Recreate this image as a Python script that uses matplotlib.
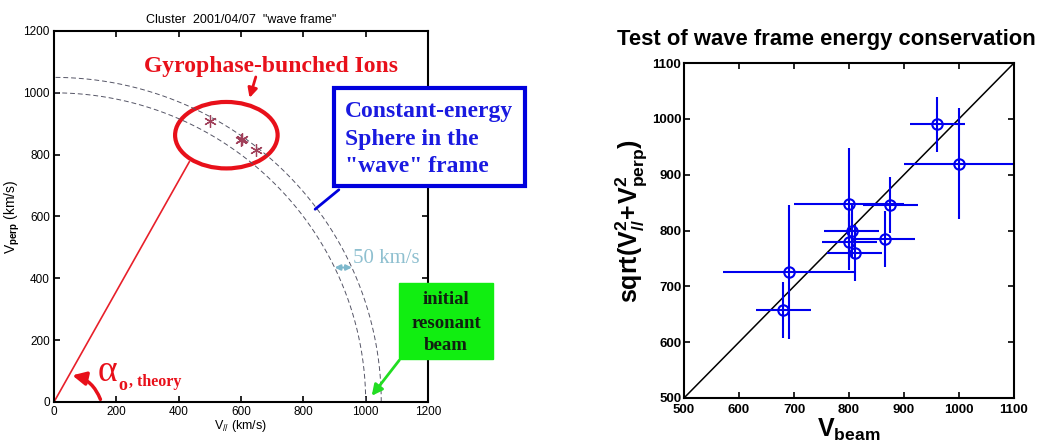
import matplotlib
matplotlib.use('Agg')
import matplotlib.pyplot as plt
import numpy as np
from matplotlib.patches import Ellipse, Rectangle, FancyArrowPatch

W, H = 1052, 441

# wave-frame ion data (left panel)
radii = [1000, 1050]
ion_vpar = [500, 603, 600, 649]
ion_vperp = [910, 852, 848, 815]
alpha_theory = 60.8   # deg
line_len = 890

# energy conservation test (right panel)
vbeam = [960, 1000, 800, 875, 805, 800, 810, 865, 690, 680]
vsphere = [990, 920, 848, 845, 800, 780, 760, 785, 725, 658]
xerr = [50, 100, 100, 50, 50, 50, 50, 55, 120, 50]
yerr = [50, 100, 100, 50, 50, 50, 50, 50, 120, 50]

sans = 'Liberation Sans'
serif = 'Liberation Serif'
plt.rcParams['font.family'] = sans
plt.rcParams['mathtext.fontset'] = 'custom'
plt.rcParams['mathtext.rm'] = sans
plt.rcParams['mathtext.bf'] = sans + ':bold'


def fp(x, y):
    # pixel position -> figure fraction
    return (x / W, 1 - y / H)


fig = plt.figure(figsize=(W / 100, H / 100), dpi=100)
ax1 = fig.add_axes([54 / W, 1 - 402 / H, 374 / W, 371 / H])
ax2 = fig.add_axes([684 / W, 1 - 398 / H, 330 / W, 335 / H])

for ax in (ax1, ax2):
    ax.tick_params(direction='in', top=True, right=True, length=4, width=1.2, pad=3)
    for s in ax.spines.values():
        s.set_linewidth(1.5)

########################## left: wave frame ##########################
th = np.linspace(0, np.pi / 2, 300)
for r in radii:
    ax1.plot(r * np.cos(th), r * np.sin(th), color='#555566', lw=0.7, dashes=(5, 3))

a = np.radians(alpha_theory)
ax1.plot([0, line_len * np.cos(a)], [0, line_len * np.sin(a)], color='#e8202a', lw=1.2)
ax1.plot(ion_vpar, ion_vperp, ls='none', marker=(6, 2, 0), ms=9, mew=0.9, color='#a0405a')
ax1.add_patch(Ellipse((553, 863), 329, 215, fill=False, ec='#e8101a', lw=3))

ax1.set_xlim(0, 1200)
ax1.set_ylim(0, 1200)
ax1.set_xticks(range(0, 1201, 200))
ax1.set_yticks(range(0, 1201, 200))
ax1.tick_params(labelsize=8.5)
ax1.set_xlabel(r'V$_{//}$ (km/s)', fontsize=9, labelpad=0)
ax1.set_ylabel(r'V$_{\mathbf{perp}}$ (km/s)', fontsize=10, labelpad=1)
ax1.set_title('Cluster  2001/04/07  "wave frame"', fontsize=9, pad=6)

ax1.text(697, 1084, 'Gyrophase-bunched Ions', family=serif, weight='bold', fontsize=17,
         color='#e8101a', ha='center', va='center')
ax1.annotate('', xy=(625, 975), xytext=(650, 1060),
             arrowprops=dict(arrowstyle='-|>', color='#e8101a', lw=2, mutation_scale=14))

# alpha_o label with curved arrow
fig.text(*fp(98, 372), 'α', fontsize=27, color='#e8101a', family=serif, va='center')
fig.text(*fp(118, 386), 'o', fontsize=13, color='#e8101a', family=serif, weight='bold', va='center')
fig.text(*fp(129, 382), ', theory', fontsize=11.5, color='#e8101a', family=serif,
         weight='bold', va='center')
ax1.add_patch(FancyArrowPatch((152, 0), (50, 88), connectionstyle='arc3,rad=0.3',
                              arrowstyle='-|>', mutation_scale=20, color='#e8101a', lw=2.5))

# 50 km/s width marker between spheres
yw = 435
x_in = np.sqrt(radii[0] ** 2 - yw ** 2)
x_out = np.sqrt(radii[1] ** 2 - yw ** 2)
ax1.annotate('', xy=(x_in, yw), xytext=(x_out, yw),
             arrowprops=dict(arrowstyle='<|-|>', color='#7db8cc', lw=1.5,
                             mutation_scale=8, shrinkA=0, shrinkB=0))
ax1.text(x_out + 5, yw + 30, '50 km/s', family=serif, fontsize=15, color='#8fc0d0', va='center')

# blue annotation box
fig.add_artist(Rectangle(fp(334, 186), 191 / W, 98 / H, transform=fig.transFigure,
                         fc='white', ec='#0000dd', lw=3))
for txt, yy in [('Constant-energy', 111), ('Sphere in the', 139), ('"wave" frame', 167)]:
    fig.text(*fp(345, yy), txt, family=serif, weight='bold', fontsize=17,
             color='#1a1ae0', va='center')
fig.add_artist(FancyArrowPatch(fp(341, 188), fp(313, 211), transform=fig.transFigure,
                               arrowstyle='-', color='#0000dd', lw=2))

# green annotation box
fig.add_artist(Rectangle(fp(399, 359), 94 / W, 76 / H, transform=fig.transFigure,
                         fc='#11ee11', ec='#11ee11', lw=1, zorder=5))
for txt, yy in [('initial', 300), ('resonant', 323), ('beam', 346)]:
    fig.text(*fp(446, yy), txt, family=serif, weight='bold', fontsize=13.5,
             color='#102010', ha='center', va='center', zorder=6)
fig.add_artist(FancyArrowPatch(fp(401, 358), fp(370, 398), transform=fig.transFigure,
                               arrowstyle='-|>', mutation_scale=16, color='#22dd22', lw=2))

########################## right: energy test ##########################
ax2.plot([500, 1100], [500, 1100], color='black', lw=1.1)
ax2.errorbar(vbeam, vsphere, xerr=xerr, yerr=yerr, fmt='o', ms=7.5, mfc='none',
             mec='#0000ee', mew=1.5, ecolor='#0000ee', elinewidth=1.5, capsize=0)
ax2.set_xlim(500, 1100)
ax2.set_ylim(500, 1100)
ax2.set_xticks(range(500, 1101, 100))
ax2.set_yticks(range(500, 1101, 100))
ax2.tick_params(axis='x', pad=4)
ax2.tick_params(axis='y', pad=2)
for lab in ax2.get_xticklabels() + ax2.get_yticklabels():
    lab.set_fontweight('bold')
    lab.set_fontsize(9.5)
ax2.set_xlabel(r'$\mathbf{V_{beam}}$', fontsize=18)
ax2.xaxis.set_label_coords(0.5, -0.055, transform=ax2.transAxes)
ax2.xaxis.label.set_va('top')
ax2.set_ylabel(r'$\mathbf{sqrt(V_{//}^2\!+\!V_{perp}^2)}$', fontsize=18)
ax2.yaxis.set_label_coords(-0.105, 0.528)
fig.text(*fp(826, 40), 'Test of wave frame energy conservation', fontsize=15.8,
         weight='bold', ha='center', va='center')

fig.savefig('out.png', dpi=100)
